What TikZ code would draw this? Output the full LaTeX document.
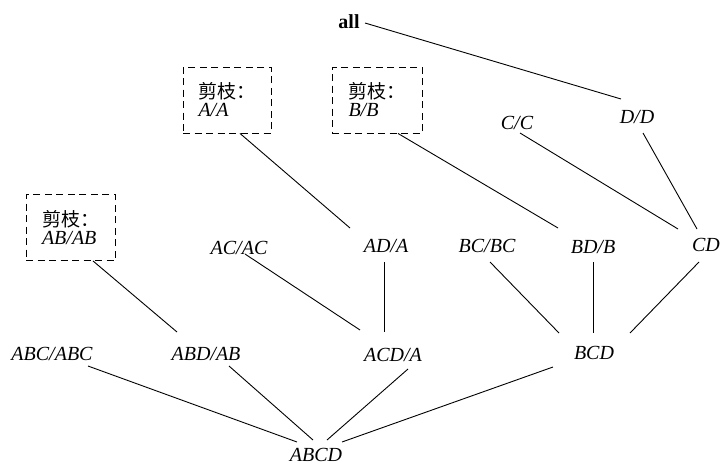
\documentclass[tikz,border=0pt]{standalone}
\usepackage{fontspec}
\setmainfont{Liberation Serif}
\newfontfamily\cjkf{Noto Sans CJK SC}
\usetikzlibrary{calc}
\begin{document}
\begin{tikzpicture}[x=1pt,y=-1pt,
  lbl/.style={font=\fontsize{20}{24}\selectfont\itshape, inner sep=0pt},
  toplbl/.style={font=\fontsize{20}{24}\selectfont\bfseries, inner sep=0pt},
  prunebox/.style={draw, dash pattern=on 7pt off 4.5pt, line width=0.9pt,
    minimum width=#1, minimum height=66pt, inner sep=0pt, align=left,
    font=\fontsize{20}{18}\selectfont},
  edge/.style={line width=0.9pt}]
\useasboundingbox (0,0) rectangle (720,466);
% top
\node[toplbl] (all) at (349,22) {all};
\node[prunebox=88pt] (AA) at (227,100) {{\cjkf\fontsize{19}{19}\selectfont 剪枝：}\\{\itshape A/A}};
\node[prunebox=90pt] (BB) at (377,100) {{\cjkf\fontsize{19}{19}\selectfont 剪枝：}\\{\itshape B/B}};
\node[lbl] (CC) at (517,123) {C/C};
\node[lbl] (DD) at (637,117) {D/D};
% second row
\node[prunebox=89pt] (AB) at (70.5,227.5) {{\cjkf\fontsize{19}{19}\selectfont 剪枝：}\\{\itshape AB/AB}};
\node[lbl] (AC) at (239,248) {AC/AC};
\node[lbl] (AD) at (386,246) {AD/A};
\node[lbl] (BC) at (487,246) {BC/BC};
\node[lbl] (BD) at (593,247) {BD/B};
\node[lbl] (CD) at (706,245) {CD};
% third row
\node[lbl] (ABC) at (52,354) {ABC/ABC};
\node[lbl] (ABD) at (206,354) {ABD/AB};
\node[lbl] (ACD) at (393,355) {ACD/A};
\node[lbl] (BCD) at (594,353) {BCD};
% bottom
\node[lbl] (ABCD) at (316,455) {ABCD};
% edges
\draw[edge] ($(all)+(16,1)$) -- ($(DD)+(-16,-18)$);
\draw[edge] ($(AA.south)+(13,0)$) -- ($(AD)+(-36,-18)$);
\draw[edge] ($(BB.south)+(21,0)$) -- ($(BD)+(-35,-19)$);
\draw[edge] ($(CC)+(3,10)$) -- ($(CD)+(-28,-16)$);
\draw[edge] ($(DD)+(6,16)$) -- ($(CD)+(-9,-16)$);
\draw[edge] ($(AB.south)+(22.5,0)$) -- ($(ABD)+(-29,-22)$);
\draw[edge] ($(AC)+(6,6)$) -- ($(ACD)+(-33,-25)$);
\draw[edge] ($(AD)+(-2,16)$) -- ($(ACD)+(-9,-23)$);
\draw[edge] ($(BC)+(3,16)$) -- ($(BCD)+(-35,-20)$);
\draw[edge] ($(BD)+(0,15)$) -- ($(BCD)+(-1,-20)$);
\draw[edge] ($(CD)+(-7,17)$) -- ($(BCD)+(36,-20)$);
\draw[edge] ($(ABC)+(36,12)$) -- ($(ABCD)+(-19,-13)$);
\draw[edge] ($(ABD)+(23,12)$) -- ($(ABCD)+(-3,-15)$);
\draw[edge] ($(ACD)+(15,14)$) -- ($(ABCD)+(11,-15)$);
\draw[edge] ($(BCD)+(-41,14)$) -- ($(ABCD)+(26,-13)$);
\end{tikzpicture}
\end{document}
